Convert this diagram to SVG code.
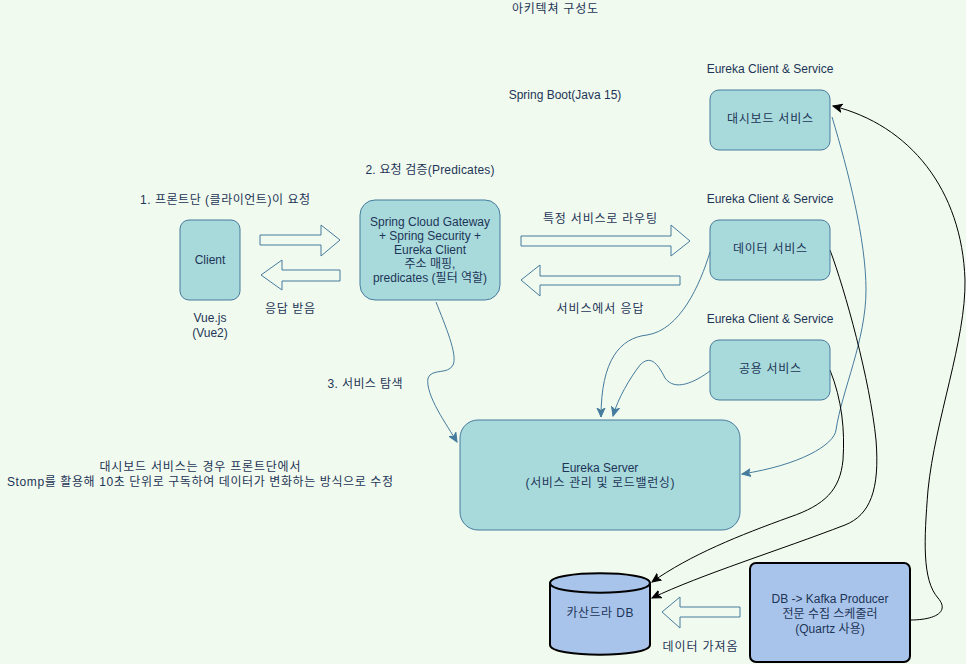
<svg xmlns="http://www.w3.org/2000/svg" width="966" height="664" viewBox="0 0 966 664">
<defs>
<style>
text{font-family:"Liberation Sans","Noto Sans CJK KR",sans-serif;font-size:12px;fill:#1D3557;text-anchor:middle}
.node{fill:#A8DADC;stroke:#457B9D;stroke-width:1}
.dark{fill:#A9C4EB;stroke:#000;stroke-width:2}
.blk{fill:#F1FAEE;stroke:#457B9D;stroke-width:1}
.cb{fill:none;stroke:#457B9D;stroke-width:1}
.ck{fill:none;stroke:#000;stroke-width:1}
</style>
<marker id="ab" markerUnits="userSpaceOnUse" markerWidth="10" markerHeight="10" viewBox="0 0 10 10" refX="9" refY="5" orient="auto">
<path d="M0,1 L9,5 L0,9 L2.5,5 Z" fill="#457B9D" stroke="#457B9D" stroke-width="1"/>
</marker>
<marker id="ak" markerUnits="userSpaceOnUse" markerWidth="10" markerHeight="10" viewBox="0 0 10 10" refX="9" refY="5" orient="auto">
<path d="M0,1 L9,5 L0,9 L2.5,5 Z" fill="#000" stroke="#000" stroke-width="1"/>
</marker>
</defs>
<rect x="0" y="0" width="966" height="664" fill="#F1FAEE"/>

<g id="labels">
<text x="555" y="13" textLength="86" lengthAdjust="spacing">아키텍쳐 구성도</text>
<text x="565" y="99">Spring Boot(Java 15)</text>
<text x="225" y="204" textLength="170" lengthAdjust="spacing">1. 프론트단 (클라이언트)이 요청</text>
<text x="430" y="174" textLength="129" lengthAdjust="spacing">2. 요청 검증(Predicates)</text>
<text x="210" y="322">Vue.js</text>
<text x="210" y="337">(Vue2)</text>
<text x="290" y="313" textLength="50" lengthAdjust="spacing">응답 받음</text>
<text x="600" y="223" textLength="114" lengthAdjust="spacing">특정 서비스로 라우팅</text>
<text x="600" y="313" textLength="87" lengthAdjust="spacing">서비스에서 응답</text>
<text x="770" y="73">Eureka Client &amp; Service</text>
<text x="770" y="203">Eureka Client &amp; Service</text>
<text x="770" y="323">Eureka Client &amp; Service</text>
<text x="365" y="388" textLength="75" lengthAdjust="spacing">3. 서비스 탐색</text>
<text x="200" y="471" textLength="201" lengthAdjust="spacing">대시보드 서비스는 경우 프론트단에서</text>
<text x="200" y="486" textLength="386" lengthAdjust="spacing">Stomp를 활용해 10초 단위로 구독하여 데이터가 변화하는 방식으로 수정</text>
<text x="700" y="651" textLength="75" lengthAdjust="spacing">데이터 가져옴</text>
</g>

<g id="connectors">
<path class="blk" d="M260,235 L321,235 L321,225 L340,240 L321,256 L321,245 L260,245 Z"/>
<path class="blk" d="M340,270 L282,270 L282,260 L261,275 L282,290 L282,281 L340,281 Z"/>
<path class="blk" d="M521,236 L671,236 L671,225 L690,241 L671,256 L671,246 L521,246 Z"/>
<path class="blk" d="M680,276 L540,276 L540,265 L521,280 L540,296 L540,285 L680,285 Z"/>
<path class="blk" d="M740,607 L680,607 L680,597 L662,612 L680,628 L680,617 L740,617 Z"/>
<path class="cb" marker-end="url(#ab)" d="M436,302 C445,325 458,355 453,365 C448,375 432,368 428,378 C425,395 447,425 457,442"/>
<path class="cb" marker-end="url(#ab)" d="M710,252 C700,285 680,330 647,335 C620,338 601,360 601,417"/>
<path class="cb" marker-end="url(#ab)" d="M710,371 C695,382 675,392 665,378 C657,362 650,355 640,365 C630,378 618,398 613,416"/>
<path class="cb" marker-end="url(#ab)" d="M832,117 C848,170 866,240 866,290 C866,340 842,390 836,430 C834,445 800,465 742,474"/>
<path class="ck" marker-end="url(#ak)" d="M830,250 C845,290 870,380 876,440 C880,490 870,515 845,525 C780,550 700,575 652,598"/>
<path class="ck" marker-end="url(#ak)" d="M830,370 C842,400 845,430 843,460 C840,490 825,505 790,517 C740,535 690,555 652,582"/>
<path class="ck" marker-end="url(#ak)" d="M910,620 C935,620 950,612 938,598 C922,580 924,540 928,490 C935,420 966,340 965,280 C962,190 910,125 833,106"/>
</g>

<g id="client">
<rect class="node" x="180" y="220" width="60" height="80" rx="9"/>
<text x="210" y="264">Client</text>
</g>
<g id="gateway">
<rect class="node" x="360" y="200" width="140" height="100" rx="15"/>
<text x="430" y="226">Spring Cloud Gateway</text>
<text x="430" y="240">+ Spring Security +</text>
<text x="430" y="254">Eureka Client</text>
<text x="430" y="268">주소 매핑,</text>
<text x="430" y="282">predicates (필터 역할)</text>
</g>
<g id="dashboard">
<rect class="node" x="710" y="90" width="120" height="60" rx="9"/>
<text x="770" y="123" textLength="86" lengthAdjust="spacing">대시보드 서비스</text>
</g>
<g id="data">
<rect class="node" x="710" y="220" width="120" height="60" rx="9"/>
<text x="770" y="253" textLength="74" lengthAdjust="spacing">데이터 서비스</text>
</g>
<g id="common">
<rect class="node" x="710" y="340" width="120" height="60" rx="9"/>
<text x="770" y="373" textLength="62" lengthAdjust="spacing">공용 서비스</text>
</g>
<g id="eureka">
<rect class="node" x="460" y="420" width="280" height="110" rx="18"/>
<text x="600" y="472">Eureka Server</text>
<text x="600" y="487" textLength="149" lengthAdjust="spacing">(서비스 관리 및 로드밸런싱)</text>
</g>
<g id="cassandra">
<path class="dark" d="M550,583 C550,570 650,570 650,583 L650,645 C650,658 550,658 550,645 Z"/>
<path class="dark" fill="none" d="M550,583 C550,596 650,596 650,583"/>
<text x="600" y="617" textLength="67" lengthAdjust="spacing">카산드라 DB</text>
</g>
<g id="kafka">
<rect class="dark" x="750" y="563" width="160" height="99" rx="6"/>
<text x="830" y="603">DB -&gt; Kafka Producer</text>
<text x="830" y="618">전문 수집 스케줄러</text>
<text x="830" y="633">(Quartz 사용)</text>
</g>
</svg>
